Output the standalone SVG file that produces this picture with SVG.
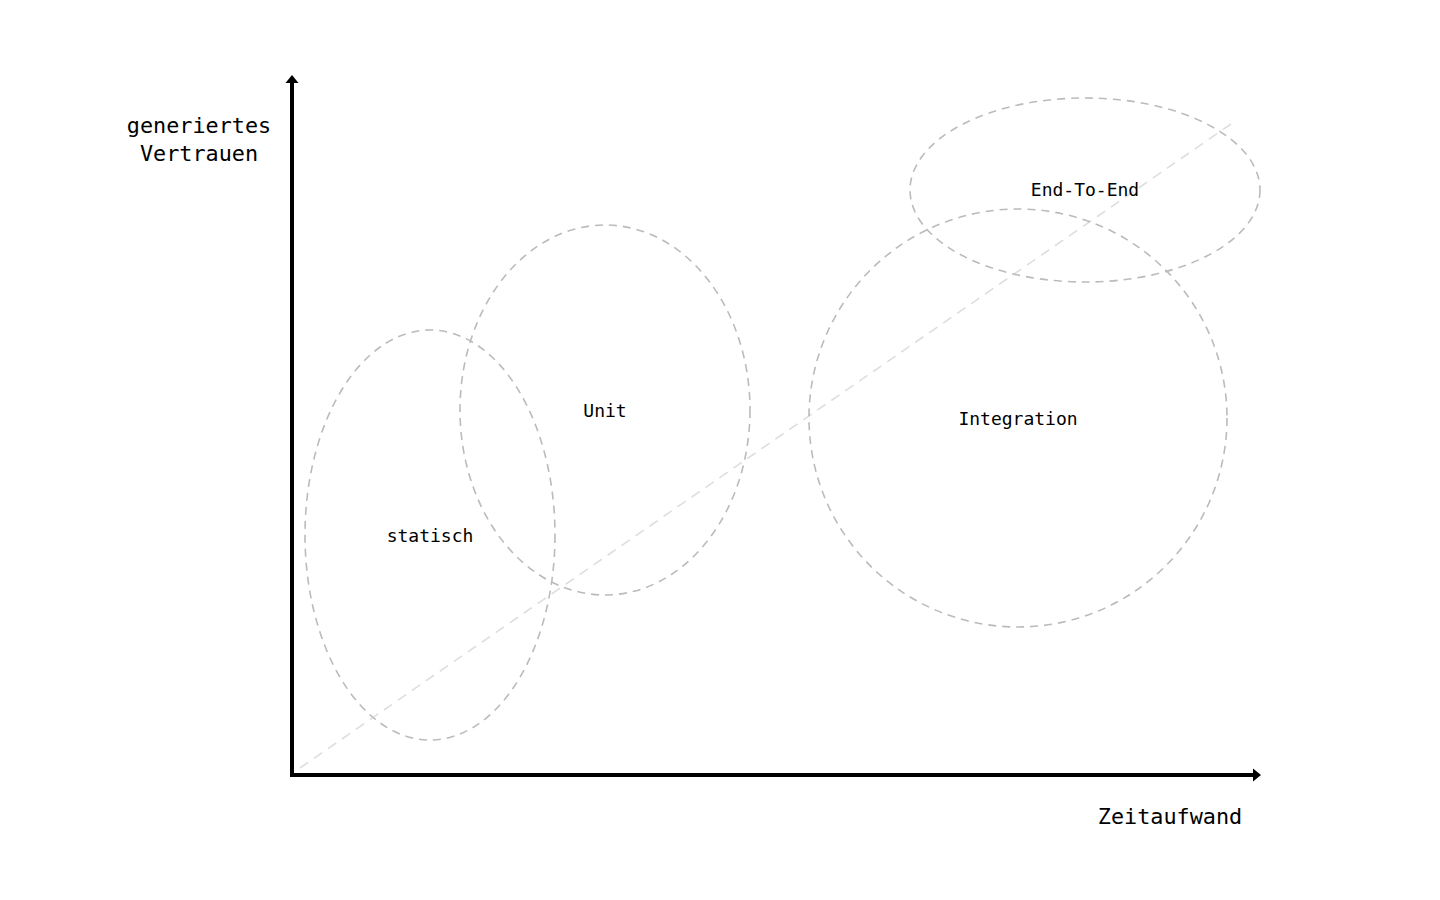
<svg xmlns="http://www.w3.org/2000/svg" width="1440" height="900" viewBox="0 0 1440 900">
<style>
.axis{stroke:#000;stroke-width:4;fill:none}
.head{fill:#000}
.zone{fill:none;stroke:#bbbbbb;stroke-width:1.6;stroke-dasharray:8 6}
.trend{stroke:#dedede;stroke-width:1.6;stroke-dasharray:10 7;fill:none}
.ax{font-family:"DejaVu Sans Mono","Liberation Mono",monospace;font-size:21.8px;fill:#000;text-anchor:middle}
.lbl{font-family:"DejaVu Sans Mono","Liberation Mono",monospace;font-size:18px;fill:#000;text-anchor:middle}
</style>
<rect width="1440" height="900" fill="#fff"/>
<g id="connectors">
<line class="trend" x1="300" y1="768" x2="1231" y2="124"/>
<line class="axis" x1="292" y1="82" x2="292" y2="777"/>
<polygon class="head" points="292,75 298.5,83 285.5,83"/>
<line class="axis" x1="290" y1="775" x2="1254" y2="775"/>
<polygon class="head" points="1261,775 1253,768.5 1253,781.5"/>
</g>
<g id="statisch">
<ellipse class="zone" cx="430" cy="535" rx="125" ry="205"/>
<text class="lbl" x="430" y="542">statisch</text>
</g>
<g id="unit">
<ellipse class="zone" cx="605" cy="410" rx="145" ry="185"/>
<text class="lbl" x="605" y="417">Unit</text>
</g>
<g id="integration">
<ellipse class="zone" cx="1018" cy="418" rx="209" ry="209"/>
<text class="lbl" x="1018" y="425">Integration</text>
</g>
<g id="end-to-end">
<ellipse class="zone" cx="1085" cy="190" rx="175" ry="92"/>
<text class="lbl" x="1085" y="196">End-To-End</text>
</g>
<g id="y-label">
<text class="ax" x="199" y="133">generiertes</text>
<text class="ax" x="199" y="161">Vertrauen</text>
</g>
<g id="x-label">
<text class="ax" x="1170" y="824">Zeitaufwand</text>
</g>
</svg>
